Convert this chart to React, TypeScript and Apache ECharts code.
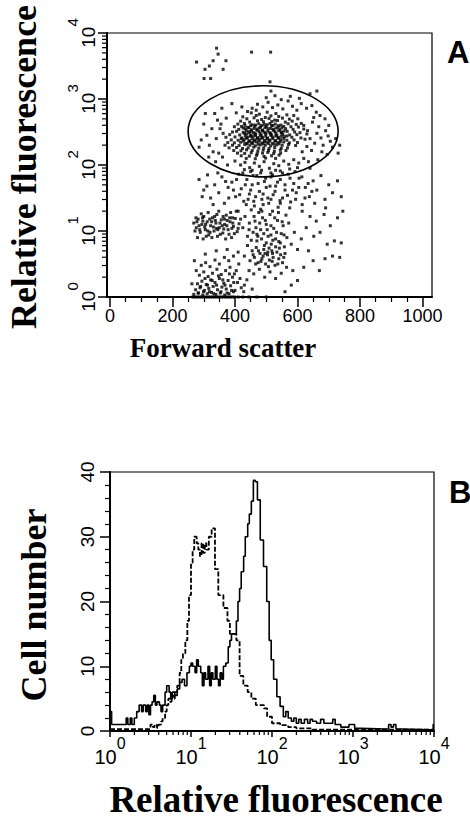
import React, { useEffect, useRef } from "react";
import * as echarts from "echarts";

// ---------- Panel A: flow cytometry dot plot ----------
// flat pairs: forward scatter, log10(relative fluorescence)
const topSparse = [
  277, 3.56, 304, 3.45, 318, 3.5, 330, 3.58, 341, 3.77, 346, 3.68, 371, 3.58, 362, 3.45,
  301, 3.31, 322, 3.31, 453, 3.71, 514, 3.71, 512, 3.26,
];

const gatedCore = [
  452, 2.79, 478, 2.77, 503, 2.8, 531, 2.78, 566, 2.76,
  425, 2.73, 468, 2.75, 497, 2.72, 515, 2.745, 540, 2.735, 588, 2.75,
  438, 2.7, 461, 2.715, 485, 2.69, 509, 2.705, 527, 2.68, 552, 2.71, 574, 2.695, 601, 2.7,
  418, 2.665, 447, 2.65, 472, 2.67, 491, 2.655, 518, 2.66, 536, 2.675, 561, 2.65, 583, 2.665,
  409, 2.62, 430, 2.63, 455, 2.61, 476, 2.625, 494, 2.615, 512, 2.63, 529, 2.62, 547, 2.605, 570, 2.625, 596, 2.615, 612, 2.63,
  398, 2.58, 421, 2.585, 441, 2.57, 463, 2.59, 482, 2.575, 500, 2.58, 517, 2.595, 538, 2.57, 556, 2.585, 579, 2.58, 603, 2.575,
  412, 2.54, 433, 2.55, 452, 2.535, 470, 2.545, 488, 2.53, 506, 2.55, 523, 2.54, 544, 2.535, 562, 2.55, 586, 2.54, 620, 2.545,
  392, 2.5, 405, 2.51, 426, 2.495, 444, 2.505, 459, 2.49, 477, 2.51, 493, 2.5, 511, 2.49, 528, 2.505, 549, 2.495, 567, 2.51, 591, 2.5, 608, 2.49,
  383, 2.46, 415, 2.455, 437, 2.47, 451, 2.45, 466, 2.465, 484, 2.455, 499, 2.47, 516, 2.46, 534, 2.45, 553, 2.465, 575, 2.455, 598, 2.46, 630, 2.47,
  371, 2.42, 400, 2.425, 422, 2.41, 440, 2.42, 457, 2.43, 472, 2.415, 488, 2.42, 504, 2.41, 521, 2.425, 539, 2.415, 558, 2.43, 582, 2.42, 611, 2.41,
  388, 2.38, 410, 2.375, 429, 2.385, 446, 2.37, 463, 2.38, 479, 2.39, 495, 2.375, 512, 2.38, 530, 2.37, 546, 2.385, 566, 2.375, 589, 2.38, 624, 2.39,
  377, 2.34, 398, 2.335, 418, 2.345, 436, 2.33, 453, 2.34, 469, 2.35, 486, 2.335, 502, 2.345, 519, 2.33, 537, 2.34, 556, 2.35, 574, 2.335, 600, 2.34,
  392, 2.3, 413, 2.295, 431, 2.31, 448, 2.3, 465, 2.29, 481, 2.305, 497, 2.3, 514, 2.29, 533, 2.305, 551, 2.3, 571, 2.31, 594, 2.295,
  381, 2.26, 405, 2.265, 424, 2.25, 442, 2.26, 460, 2.27, 476, 2.255, 492, 2.26, 509, 2.25, 527, 2.265, 548, 2.255, 568, 2.26,
  396, 2.22, 419, 2.215, 437, 2.23, 455, 2.22, 473, 2.21, 490, 2.225, 507, 2.22, 526, 2.21, 545, 2.225, 563, 2.22,
  408, 2.18, 431, 2.175, 452, 2.185, 471, 2.17, 488, 2.18, 505, 2.19, 524, 2.175, 546, 2.18,
  420, 2.14, 446, 2.135, 469, 2.145, 493, 2.13, 517, 2.14, 541, 2.15,
  436, 2.1, 465, 2.095, 498, 2.105, 530, 2.1,
];

const gatedDense = [
  432, 2.6, 450, 2.595, 466, 2.605, 485, 2.6, 503, 2.61, 521, 2.6, 539, 2.595,
  426, 2.56, 444, 2.565, 461, 2.555, 478, 2.56, 496, 2.565, 514, 2.555, 531, 2.56, 550, 2.565,
  436, 2.52, 453, 2.515, 470, 2.525, 488, 2.52, 505, 2.515, 522, 2.525, 540, 2.52, 557, 2.515,
  430, 2.48, 447, 2.485, 464, 2.475, 480, 2.48, 497, 2.485, 514, 2.475, 531, 2.48, 548, 2.485,
  433, 2.44, 449, 2.435, 465, 2.445, 481, 2.44, 498, 2.435, 515, 2.445, 531, 2.44, 548, 2.435, 566, 2.44,
  420, 2.4, 437, 2.405, 455, 2.395, 471, 2.4, 487, 2.405, 503, 2.395, 521, 2.4, 538, 2.405, 556, 2.4,
  427, 2.36, 444, 2.355, 461, 2.365, 477, 2.36, 494, 2.355, 510, 2.365, 528, 2.36, 545, 2.355,
  439, 2.32, 457, 2.325, 474, 2.315, 490, 2.32, 507, 2.325, 524, 2.315, 541, 2.32,
];

const gatedHalo = [
  455, 2.86, 472, 2.92, 489, 2.88, 506, 2.95, 520, 2.87, 537, 2.91, 553, 2.85, 570, 2.97, 584, 2.89,
  598, 2.83, 612, 2.93, 629, 2.86, 646, 2.9, 500, 3.02, 528, 3.05, 548, 2.99, 577, 3.04, 606, 3.01,
  640, 3.08, 662, 3.12, 515, 3.12, 468, 2.83, 440, 2.81, 422, 2.88, 404, 2.79, 390, 2.93,
  300, 2.62, 310, 2.45, 318, 2.3, 326, 2.55, 335, 2.78, 340, 2.4, 348, 2.18, 355, 2.62, 362, 2.48,
  368, 2.3, 372, 2.71, 358, 2.86, 344, 2.68, 330, 2.2, 305, 2.78, 292, 2.38, 285, 2.27, 316, 2.12,
  338, 2.05, 360, 2.12, 376, 2.0, 352, 2.55,
  620, 2.6, 632, 2.52, 640, 2.4, 648, 2.65, 655, 2.33, 662, 2.48, 668, 2.58, 675, 2.41, 682, 2.3,
  690, 2.52, 698, 2.44, 705, 2.36, 712, 2.27, 700, 2.6, 688, 2.7, 672, 2.75, 660, 2.8, 645, 2.22,
  630, 2.28, 615, 2.2, 652, 2.72, 678, 2.2, 695, 2.16, 722, 2.4, 735, 2.3, 730, 2.18,
  400, 2.06, 418, 2.0, 432, 2.04, 447, 1.96, 462, 2.03, 478, 1.98, 493, 2.05, 510, 1.95, 524, 2.02,
  540, 1.99, 556, 2.06, 572, 2.01, 588, 2.08, 604, 2.03, 620, 2.1, 450, 1.9, 485, 1.92, 515, 1.88,
  545, 1.91, 575, 1.94, 600, 1.96, 635, 2.05, 665, 2.08, 430, 1.93,
];

const midBand = [
  285, 1.78, 300, 1.62, 312, 1.85, 322, 1.5, 335, 1.7, 348, 1.58, 358, 1.82, 366, 1.42, 378, 1.66,
  390, 1.74, 402, 1.52, 412, 1.86, 420, 1.64, 428, 1.45, 438, 1.78, 446, 1.56, 455, 1.7, 462, 1.38,
  470, 1.84, 478, 1.6, 486, 1.48, 494, 1.75, 500, 1.66, 508, 1.42, 515, 1.82, 522, 1.55, 530, 1.68,
  538, 1.36, 545, 1.78, 552, 1.5, 560, 1.62, 570, 1.86, 578, 1.44, 588, 1.72, 596, 1.58, 605, 1.8,
  615, 1.4, 625, 1.66, 638, 1.52, 650, 1.76, 662, 1.62, 675, 1.84, 688, 1.48, 700, 1.7, 712, 1.58,
  728, 1.76, 740, 1.52, 745, 1.3, 690, 1.35, 655, 1.42, 520, 1.3, 482, 1.33, 455, 1.92, 530, 1.92,
  592, 1.9, 640, 1.95,
];

const midExtra = [
  395, 1.62, 405, 1.78, 415, 1.55, 425, 1.88, 433, 1.7, 442, 1.48, 450, 1.62, 458, 1.84, 466, 1.52,
  474, 1.72, 482, 1.88, 490, 1.56, 498, 1.8, 505, 1.5, 512, 1.68, 520, 1.85, 528, 1.6, 536, 1.74,
  544, 1.46, 552, 1.88, 560, 1.7, 568, 1.54, 576, 1.8, 584, 1.62, 594, 1.48, 604, 1.66, 614, 1.82,
  624, 1.5, 634, 1.72, 646, 1.6, 380, 1.5, 370, 1.75, 345, 1.88, 330, 1.4, 310, 1.68, 295, 1.52,
];

const lowArm = [
  268, 1.12, 276, 1.05, 282, 1.18, 289, 0.98, 294, 1.1, 300, 1.22, 305, 1.02, 311, 1.14, 316, 0.94,
  322, 1.08, 328, 1.2, 333, 1.0, 339, 1.12, 344, 0.92, 350, 1.05, 356, 1.17, 361, 0.97, 367, 1.1,
  372, 1.24, 378, 1.02, 384, 1.14, 389, 0.9, 395, 1.07, 401, 1.19, 407, 0.99, 413, 1.11,
  272, 1.0, 285, 1.08, 297, 1.15, 308, 0.92, 319, 1.18, 331, 1.06, 342, 1.25, 353, 0.95, 364, 1.03,
  375, 1.16, 386, 1.28, 398, 0.96, 410, 1.04,
  280, 0.9, 292, 1.26, 303, 1.06, 314, 1.28, 326, 0.9, 337, 1.16, 348, 1.3, 359, 1.08, 370, 0.88,
  381, 0.95, 392, 1.2, 404, 1.3, 275, 1.2, 298, 0.88, 320, 0.98, 345, 1.02, 366, 1.18, 390, 1.04,
  278, 1.14, 287, 1.02, 296, 1.2, 306, 1.1, 313, 1.0, 325, 1.14, 335, 1.22, 341, 1.04, 352, 1.12,
  362, 1.22, 374, 1.08, 383, 1.2, 393, 1.12,
];

const lowBand = [
  410, 1.3, 418, 1.18, 425, 1.05, 432, 1.22, 440, 0.92, 446, 1.12, 452, 1.32, 458, 0.98, 464, 1.15,
  470, 0.85, 476, 1.28, 482, 1.02, 488, 1.2, 494, 0.78, 500, 1.1, 506, 0.92, 512, 1.25, 518, 0.7,
  524, 1.04, 530, 0.88, 536, 1.16, 542, 0.74, 548, 0.96, 554, 1.08, 560, 0.66, 566, 0.9, 572, 1.12,
  580, 0.8, 590, 0.98, 600, 0.72, 612, 0.88,
  430, 0.62, 440, 0.78, 448, 0.55, 455, 0.7, 462, 0.6, 468, 0.75, 474, 0.52, 480, 0.66, 486, 0.58,
  492, 0.72, 498, 0.5, 504, 0.64, 510, 0.56, 516, 0.8, 522, 0.6, 528, 0.48, 534, 0.68, 540, 0.58,
  546, 0.64, 552, 0.52, 558, 0.76,
  445, 0.4, 460, 0.35, 478, 0.42, 495, 0.3, 512, 0.38, 530, 0.28, 548, 0.36, 565, 0.45, 585, 0.4,
  436, 1.4, 460, 1.45, 490, 1.4, 515, 1.48, 545, 1.42, 575, 1.35,
  470, 0.95, 485, 0.88, 500, 0.82, 515, 0.94, 530, 0.76, 505, 0.68, 490, 0.62, 520, 0.66, 475, 0.7, 540, 0.84,
  445, 1.02, 452, 0.86, 461, 1.22, 467, 1.05, 473, 0.92, 479, 1.12, 486, 1.3, 492, 0.96, 497, 1.16,
  503, 1.02, 509, 0.74, 515, 1.08, 521, 0.86, 527, 1.2, 533, 0.98, 539, 1.28, 545, 0.82, 551, 1.14,
  557, 0.94, 563, 1.24, 458, 0.64, 466, 0.5, 483, 0.54, 496, 0.66, 507, 0.46, 519, 0.54, 537, 0.5, 556, 0.6,
];

const rightScatter = [
  615, 1.3, 628, 1.05, 640, 1.22, 652, 0.92, 660, 1.15, 672, 0.98, 685, 1.25, 695, 0.8, 705, 1.08,
  718, 0.85, 728, 1.2, 740, 0.82, 735, 0.6, 712, 0.62, 688, 0.58, 650, 0.55, 635, 0.7, 670, 0.4,
  620, 0.45, 600, 0.25, 580, 0.18, 560, 0.08,
];

const baseCluster = [
  265, 0, 272, 0, 279, 0, 286, 0, 293, 0, 300, 0, 307, 0, 314, 0, 321, 0, 328, 0, 335, 0, 342, 0,
  349, 0, 356, 0, 363, 0, 370, 0, 377, 0, 384, 0, 391, 0, 398, 0, 410, 0, 425, 0, 445, 0, 470, 0, 500, 0,
  268, 0.04, 283, 0.06, 297, 0.03, 311, 0.05, 325, 0.07, 339, 0.04, 353, 0.06, 367, 0.03, 381, 0.05, 395, 0.08,
  274, 0.11, 288, 0.14, 302, 0.1, 316, 0.13, 330, 0.16, 344, 0.11, 358, 0.15, 372, 0.12, 386, 0.17, 400, 0.1, 420, 0.14,
  280, 0.2, 294, 0.24, 308, 0.19, 322, 0.26, 336, 0.22, 350, 0.28, 364, 0.21, 378, 0.25, 392, 0.3, 408, 0.22, 430, 0.18,
  286, 0.33, 300, 0.38, 314, 0.31, 328, 0.36, 342, 0.42, 356, 0.34, 370, 0.4, 384, 0.45, 398, 0.35, 412, 0.5,
  292, 0.48, 306, 0.52, 320, 0.46, 336, 0.56, 350, 0.5, 366, 0.6, 380, 0.55, 395, 0.62,
  276, 0.4, 262, 0.2, 270, 0.55, 305, 0.65, 340, 0.7, 375, 0.72, 410, 0.68,
  282, 0.06, 290, 0.16, 299, 0.08, 304, 0.28, 312, 0.18, 318, 0.08, 327, 0.25, 332, 0.05, 341, 0.18,
  347, 0.32, 355, 0.08, 361, 0.26, 368, 0.18, 375, 0.06, 382, 0.35, 389, 0.1, 396, 0.22, 404, 0.4,
  416, 0.28, 428, 0.08, 438, 0.26, 455, 0.12,
];

// gate ellipse: centre and edge (x, log10 y)
const gateCenter = [490, 2.51];
const gateEdge = [730, 3.2];

const xTicksA = [0, 200, 400, 600, 800, 1000];
const xMinorTicksA = [50, 100, 150, 250, 300, 350, 450, 500, 550, 650, 700, 750, 850, 900, 950];
const logMinorTicks = [
  2, 3, 4, 5, 6, 7, 8, 9, 20, 30, 40, 50, 60, 70, 80, 90, 200, 300, 400, 500, 600, 700, 800, 900,
  2000, 3000, 4000, 5000, 6000, 7000, 8000, 9000,
];

// ---------- Panel B: histograms [log10 fluorescence channel start, cell number] ----------
const stainedHist = [
  [0, 3], [0.02, 1], [0.2, 2], [0.22, 1], [0.25, 2], [0.27, 1], [0.3, 2], [0.33, 3], [0.36, 4], [0.39, 3],
  [0.41, 4], [0.44, 3], [0.46, 4], [0.48, 2.5], [0.5, 4], [0.52, 4.5], [0.54, 5.5], [0.56, 4], [0.58, 4.5],
  [0.61, 4], [0.63, 3], [0.65, 4], [0.68, 6], [0.7, 7], [0.73, 6], [0.75, 5], [0.77, 6], [0.8, 5.5],
  [0.83, 6.5], [0.86, 7.5], [0.89, 8], [0.92, 7], [0.95, 9], [0.98, 10], [1.0, 10.5], [1.02, 10], [1.05, 9],
  [1.07, 11], [1.09, 10], [1.12, 9], [1.14, 7], [1.16, 9], [1.18, 8], [1.21, 10], [1.23, 7], [1.25, 9],
  [1.27, 8], [1.3, 10], [1.32, 8], [1.34, 7], [1.36, 9], [1.38, 8], [1.4, 10], [1.43, 10.5], [1.46, 13],
  [1.48, 14], [1.5, 15], [1.54, 15], [1.56, 17], [1.58, 20], [1.6, 22], [1.62, 24.6], [1.65, 27], [1.67, 30],
  [1.7, 32], [1.72, 33.5], [1.745, 35.5], [1.77, 38.7], [1.795, 38.5], [1.82, 35.7], [1.855, 29.5],
  [1.895, 25.4], [1.935, 20], [1.965, 14], [1.99, 11], [2.02, 8], [2.06, 5.3], [2.1, 3.8], [2.14, 2.2],
  [2.17, 3], [2.2, 2], [2.24, 1.5], [2.27, 2], [2.3, 1.2], [2.33, 1.8], [2.36, 1.2], [2.4, 1.8], [2.44, 1.2],
  [2.47, 1.8], [2.5, 1.5], [2.55, 1.2], [2.6, 1.8], [2.64, 1.2], [2.7, 1.2], [2.75, 1.8], [2.78, 1],
  [2.85, 0.6], [2.95, 1], [3.02, 0.4], [3.1, 0.3], [3.4, 0.3], [3.44, 1], [3.47, 0.6], [3.5, 1], [3.53, 0.3],
  [3.6, 0.2], [3.97, 0.2], [3.99, 1], [4.0, 1],
];

const controlHist = [
  [0, 0.3], [0.45, 0.3], [0.5, 1], [0.53, 0.6], [0.55, 1], [0.58, 0.5], [0.6, 1], [0.63, 1.5], [0.65, 2],
  [0.68, 3], [0.7, 4], [0.72, 5], [0.74, 4.5], [0.76, 5.5], [0.78, 5], [0.8, 6], [0.83, 7], [0.86, 9],
  [0.88, 11], [0.9, 12], [0.93, 14], [0.955, 17], [0.975, 21], [1.0, 26], [1.02, 28], [1.04, 30], [1.07, 29],
  [1.09, 28], [1.11, 27], [1.13, 29], [1.15, 27.5], [1.17, 29], [1.19, 28], [1.22, 30], [1.255, 31.3],
  [1.296, 25], [1.337, 21], [1.4, 19], [1.45, 17], [1.48, 15], [1.56, 14], [1.6, 8.5], [1.646, 7],
  [1.7, 6], [1.745, 5], [1.8, 4], [1.9, 3.5], [1.94, 2.2], [2.0, 1.2], [2.1, 0.9], [2.2, 0.6], [2.3, 0.4],
  [2.5, 0.2], [4.0, 0.2],
];

const serif = '"Liberation Serif", "Times New Roman", serif';
const sans = '"Liberation Sans", Arial, sans-serif';
const narrow = '"Liberation Sans Narrow", "Liberation Sans", Arial, sans-serif';

const X_MIN_A = -9.6;
const X_MAX_A = 1030.4;

function toPoints(flat: number[]) {
  const out: number[][] = [];
  for (let i = 0; i < flat.length; i += 2) out.push([flat[i], Math.pow(10, flat[i + 1])]);
  return out;
}

const powLabel = (v: number) => `{s|${Math.round(Math.log10(v))}}`;

function buildOption(): any {
  const scatterData = [
    topSparse, gatedCore, gatedDense, gatedHalo, midBand, midExtra, lowArm, lowBand, rightScatter, baseCluster,
  ].flatMap(toPoints);
  const black = "#000";
  const richPow = (big: number, small: number, pad: number) => ({
    b: { fontFamily: narrow, fontSize: big, lineHeight: big, color: black, verticalAlign: "bottom" },
    s: { fontFamily: narrow, fontSize: small, color: black, verticalAlign: "top", padding: [0, 0, pad, 0] },
  });
  return {
    animation: false,
    backgroundColor: "#fff",
    grid: [
      { left: 107, top: 33, width: 325, height: 264, show: true, borderColor: black, borderWidth: 1.2 },
      { left: 110, top: 472, width: 324, height: 259, show: true, borderColor: black, borderWidth: 1.2 },
    ],
    xAxis: [
      {
        type: "value", gridIndex: 0, position: "bottom", min: X_MIN_A, max: X_MAX_A,
        axisLine: { onZero: false, lineStyle: { color: black, width: 2 } },
        axisTick: { customValues: xTicksA, length: 10, lineStyle: { color: black, width: 1.5 } },
        axisLabel: {
          customValues: xTicksA, color: black, fontFamily: sans, fontSize: 18, margin: 10,
          formatter: (v: number) => String(v),
        },
        splitLine: { show: false },
      },
      {
        type: "value", gridIndex: 0, position: "bottom", min: X_MIN_A, max: X_MAX_A,
        axisLine: { show: false, onZero: false },
        axisTick: { customValues: xMinorTicksA, length: 5, lineStyle: { color: black, width: 1.2 } },
        axisLabel: { show: false },
        splitLine: { show: false },
      },
      {
        type: "log", logBase: 10, gridIndex: 1, position: "bottom", min: 1, max: 10000, splitNumber: 4,
        axisLine: { onZero: false, lineStyle: { color: black, width: 2 } },
        axisTick: { length: 6, lineStyle: { color: black, width: 1.5 } },
        axisLabel: {
          formatter: (v: number) => `{b|10}${powLabel(v)}`,
          rich: richPow(20, 16, 16), margin: 4,
        },
        splitLine: { show: false },
      },
    ],
    yAxis: [
      {
        type: "log", logBase: 10, gridIndex: 0, position: "left", min: 1, max: 10000, splitNumber: 4,
        axisLine: { onZero: false, lineStyle: { color: black, width: 2 } },
        axisTick: { length: 9, lineStyle: { color: black, width: 1.5 } },
        axisLabel: {
          rotate: 90, formatter: (v: number) => `{b|10}${powLabel(v)}`,
          rich: richPow(19, 15, 18), margin: 9,
        },
        splitLine: { show: false },
      },
      {
        type: "value", gridIndex: 1, position: "left", min: 0, max: 40, interval: 10,
        axisLine: { onZero: false, lineStyle: { color: black, width: 2 } },
        axisTick: { length: 10, lineStyle: { color: black, width: 1.5 } },
        minorTick: { show: true, splitNumber: 5, length: 5, lineStyle: { color: black, width: 1.2 } },
        axisLabel: { rotate: 90, color: black, fontFamily: narrow, fontSize: 19, margin: 13 },
        splitLine: { show: false },
        minorSplitLine: { show: false },
      },
    ],
    series: [
      {
        type: "scatter", xAxisIndex: 0, yAxisIndex: 0, data: scatterData, symbol: "rect",
        symbolSize: 3, itemStyle: { color: black }, clip: false, silent: true,
      },
      {
        type: "custom", xAxisIndex: 0, yAxisIndex: 0, clip: false, silent: true,
        data: [[gateCenter[0], Math.pow(10, gateCenter[1]), gateEdge[0], Math.pow(10, gateEdge[1])]],
        renderItem: (_p: any, api: any) => {
          const c = api.coord([api.value(0), api.value(1)]);
          const e = api.coord([api.value(2), api.value(3)]);
          return {
            type: "ellipse",
            shape: { cx: c[0], cy: c[1], rx: Math.abs(e[0] - c[0]), ry: Math.abs(c[1] - e[1]) },
            style: { fill: "none", stroke: black, lineWidth: 1.6 },
          };
        },
      },
      {
        type: "custom", xAxisIndex: 0, yAxisIndex: 0, clip: false, silent: true,
        data: logMinorTicks.map((v) => [X_MIN_A, v]),
        renderItem: (_p: any, api: any) => {
          const p = api.coord([api.value(0), api.value(1)]);
          return { type: "line", shape: { x1: p[0] - 5, y1: p[1], x2: p[0], y2: p[1] }, style: { stroke: black, lineWidth: 1.2 } };
        },
      },
      {
        type: "line", xAxisIndex: 2, yAxisIndex: 1, step: "end", showSymbol: false, silent: true,
        data: stainedHist.map(([e, c]) => [Math.pow(10, e), c]),
        lineStyle: { color: black, width: 1.6 },
      },
      {
        type: "line", xAxisIndex: 2, yAxisIndex: 1, step: "end", showSymbol: false, silent: true,
        data: controlHist.map(([e, c]) => [Math.pow(10, e), c]),
        lineStyle: { color: black, width: 1.8, type: [5, 2] },
      },
      {
        type: "custom", xAxisIndex: 2, yAxisIndex: 1, clip: false, silent: true,
        data: logMinorTicks.map((v) => [v, 0]),
        renderItem: (_p: any, api: any) => {
          const p = api.coord([api.value(0), api.value(1)]);
          return { type: "line", shape: { x1: p[0], y1: p[1], x2: p[0], y2: p[1] + 4 }, style: { stroke: black, lineWidth: 1.2 } };
        },
      },
    ],
    graphic: [
      {
        type: "text", x: 24, y: 167, rotation: Math.PI / 2,
        style: { text: "Relative fluorescence", fontFamily: serif, fontWeight: "bold", fontSize: 36, lineHeight: 36, fill: black, align: "center", verticalAlign: "middle" },
      },
      {
        type: "text", x: 223, y: 348,
        style: { text: "Forward scatter", fontFamily: serif, fontWeight: "bold", fontSize: 27, lineHeight: 27, fill: black, align: "center", verticalAlign: "middle" },
      },
      {
        type: "text", x: 34, y: 605, rotation: Math.PI / 2,
        style: { text: "Cell number", fontFamily: serif, fontWeight: "bold", fontSize: 36, lineHeight: 36, fill: black, align: "center", verticalAlign: "middle" },
      },
      {
        type: "text", x: 276, y: 799,
        style: { text: "Relative fluorescence", fontFamily: serif, fontWeight: "bold", fontSize: 37, lineHeight: 34, fill: black, align: "center", verticalAlign: "middle" },
      },
      {
        type: "text", x: 447, y: 52,
        style: { text: "A", fontFamily: sans, fontWeight: "bold", fontSize: 31, fill: black, align: "left", verticalAlign: "middle" },
      },
      {
        type: "text", x: 449, y: 492,
        style: { text: "B", fontFamily: sans, fontWeight: "bold", fontSize: 31, fill: black, align: "left", verticalAlign: "middle" },
      },
    ],
  };
}

export default function App() {
  const ref = useRef<HTMLDivElement>(null);
  useEffect(() => {
    if (!ref.current) return;
    const chart = echarts.init(ref.current, null, { renderer: "svg" });
    chart.setOption(buildOption());
    return () => chart.dispose();
  }, []);
  return (
    <div
      ref={ref}
      style={{ position: "fixed", left: 0, top: 0, width: 470, height: 819, background: "#fff" }}
    />
  );
}
